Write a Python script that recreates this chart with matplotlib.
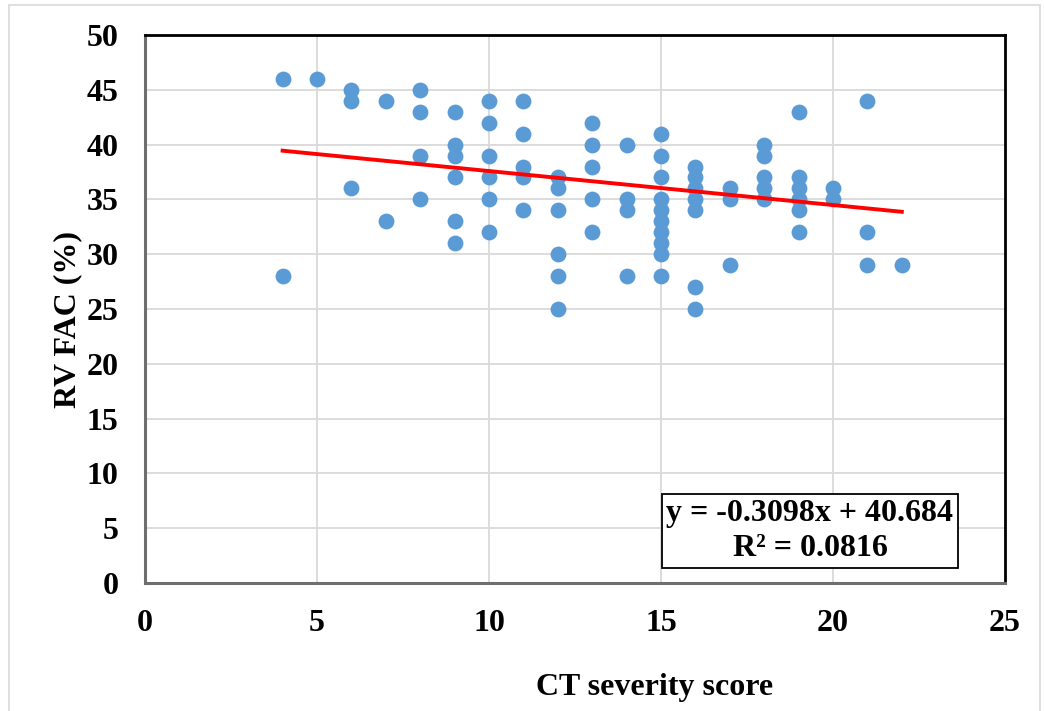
import matplotlib
matplotlib.use('Agg')
import matplotlib.pyplot as plt
from matplotlib.patches import Rectangle

# CT severity score vs RV FAC (%)
ct_score = [4, 4,
            5,
            6, 6, 6,
            7, 7,
            8, 8, 8, 8,
            9, 9, 9, 9, 9, 9,
            10, 10, 10, 10, 10, 10,
            11, 11, 11, 11, 11,
            12, 12, 12, 12, 12, 12,
            13, 13, 13, 13, 13,
            14, 14, 14, 14,
            15, 15, 15, 15, 15, 15, 15, 15, 15, 15,
            16, 16, 16, 16, 16, 16, 16,
            17, 17, 17,
            18, 18, 18, 18, 18,
            19, 19, 19, 19, 19, 19,
            20, 20,
            21, 21, 21,
            22]
rv_fac = [46, 28,
          46,
          45, 44, 36,
          44, 33,
          45, 43, 39, 35,
          43, 40, 39, 37, 33, 31,
          44, 42, 39, 37, 35, 32,
          44, 41, 38, 37, 34,
          37, 36, 34, 30, 28, 25,
          42, 40, 38, 35, 32,
          40, 35, 34, 28,
          41, 39, 37, 35, 34, 33, 32, 31, 30, 28,
          38, 37, 36, 35, 34, 27, 25,
          36, 35, 29,
          40, 39, 37, 36, 35,
          43, 37, 36, 35, 34, 32,
          36, 35,
          44, 32, 29,
          29]

slope = -0.3098
intercept = 40.684
r2 = 0.0816
trend_x = [min(ct_score), max(ct_score)]
trend_y = [slope * v + intercept for v in trend_x]

plt.rcParams['font.family'] = ['Liberation Serif', 'DejaVu Serif']
plt.rcParams['font.weight'] = 'bold'

W, H = 1044, 711
fig = plt.figure(figsize=(W / 100, H / 100), dpi=100)
ax = fig.add_axes([145 / W, 1 - 583 / H, 860 / W, 548 / H])

ax.scatter(ct_score, rv_fac, s=130, color='#5B9BD5', zorder=3, linewidths=0)
ax.plot(trend_x, trend_y, color='#FF0000', lw=2.8, zorder=4)

ax.set_xlim(0, 25)
ax.set_ylim(0, 50)
ax.set_xticks(range(0, 26, 5))
ax.set_yticks(range(0, 51, 5))
ax.grid(True, color='#D9D9D9', lw=1.3, zorder=0)
ax.set_axisbelow(True)
ax.tick_params(length=0, labelsize=23, pad=19)
for lab in ax.get_xticklabels() + ax.get_yticklabels():
    lab.set_fontweight('bold')
for side in ['top', 'right']:
    ax.spines[side].set_color('black')
    ax.spines[side].set_linewidth(2)
for side in ['left', 'bottom']:
    ax.spines[side].set_color('#6E6E6E')
    ax.spines[side].set_linewidth(2.2)

fig.text(655 / W, 1 - 687 / H, 'CT severity score', ha='center', va='center',
         fontsize=23, fontweight='bold')
fig.text(68 / W, 1 - 320 / H, 'RV FAC (%)', ha='center', va='center',
         rotation=90, fontsize=23, fontweight='bold')

eq_text = f'y = {slope}x + {intercept}\nR² = {r2}'
fig.text(810 / W, 1 - 531 / H, eq_text, ha='center', va='center', fontsize=23,
         fontweight='bold', multialignment='center', linespacing=1.3, zorder=5,
         bbox=dict(boxstyle='square,pad=0.15', facecolor='white', edgecolor='black', lw=1.3))

fig.patches.append(Rectangle((9 / W, -0.01), 1031 / W, 1 - 5 / H + 0.01,
                             transform=fig.transFigure, fill=False,
                             edgecolor='#D9D9D9', lw=1.2))

fig.savefig('out.png', dpi=100)
